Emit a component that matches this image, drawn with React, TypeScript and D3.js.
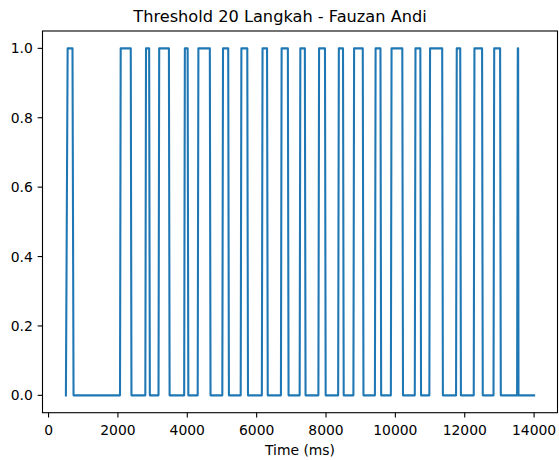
import React from "react";
import * as d3 from "d3";

const times: number[] = [
  500, 550, 690, 720,
  2060, 2080, 2370, 2390,
  2790, 2810, 2900, 2920,
  3170, 3190, 3470, 3490,
  3910, 3930, 4010, 4030,
  4300, 4320, 4650, 4670,
  5010, 5030, 5180, 5200,
  5540, 5560, 5730, 5750,
  6150, 6170, 6300, 6320,
  6700, 6720, 6900, 6920,
  7240, 7260, 7390, 7410,
  7780, 7800, 7970, 7990,
  8350, 8370, 8490, 8510,
  8790, 8810, 9060, 9080,
  9410, 9430, 9570, 9590,
  9870, 9890, 10200, 10220,
  10560, 10580, 10720, 10740,
  10980, 11000, 11350, 11370,
  11750, 11770, 11870, 11890,
  12260, 12280, 12500, 12520,
  12830, 12850, 13020, 13040,
  13510, 13530, 13540, 13550,
  14000,
];
const values: number[] = [
  0, 1, 1, 0,
  0, 1, 1, 0,
  0, 1, 1, 0,
  0, 1, 1, 0,
  0, 1, 1, 0,
  0, 1, 1, 0,
  0, 1, 1, 0,
  0, 1, 1, 0,
  0, 1, 1, 0,
  0, 1, 1, 0,
  0, 1, 1, 0,
  0, 1, 1, 0,
  0, 1, 1, 0,
  0, 1, 1, 0,
  0, 1, 1, 0,
  0, 1, 1, 0,
  0, 1, 1, 0,
  0, 1, 1, 0,
  0, 1, 1, 0,
  0, 1, 1, 0,
  0, 1, 1, 0,
  0, 1, 1, 0,
  0,
];
const xTicks = [0, 2000, 4000, 6000, 8000, 10000, 12000, 14000];
const yTicks = [0, 0.2, 0.4, 0.6, 0.8, 1.0];
const title = "Threshold 20 Langkah - Fauzan Andi";
const xLabel = "Time (ms)";

const W = 559;
const H = 460;
const left = 42.5;
const right = 557.5;
const top = 31;
const bottom = 412.7;
const tickFont = 13.9;
const tickLen = 4.86;

export default function App() {
  const xMin = d3.min(times)!;
  const xMax = d3.max(times)!;
  const xPad = (xMax - xMin) * 0.05;
  const x = d3.scaleLinear().domain([xMin - xPad, xMax + xPad]).range([left, right]);
  const y = d3.scaleLinear().domain([-0.05, 1.05]).range([bottom, top]);
  const pts = times.map((t, i) => [t, values[i]] as [number, number]);
  const line = d3.line<[number, number]>().x((d) => x(d[0])).y((d) => y(d[1]));
  const font = "'DejaVu Sans', sans-serif";
  return (
    <svg
      width={W}
      height={H}
      style={{ position: "absolute", left: 0, top: 0, background: "#fff" }}
      fontFamily={font}
    >
      <rect x={0} y={0} width={W} height={H} fill="#fff" />
      <path d={line(pts)!} fill="none" stroke="#1f77b4" strokeWidth={2.08} strokeLinejoin="round" strokeLinecap="square" />
      <rect x={left} y={top} width={right - left} height={bottom - top} fill="none" stroke="#000" strokeWidth={1.1} />
      {xTicks.map((t) => (
        <g key={"x" + t}>
          <line x1={x(t)} x2={x(t)} y1={bottom} y2={bottom + tickLen} stroke="#000" strokeWidth={1.1} />
          <text x={x(t)} y={bottom + 22.3} textAnchor="middle" fontSize={tickFont} fill="#000">
            {t}
          </text>
        </g>
      ))}
      {yTicks.map((t) => (
        <g key={"y" + t}>
          <line x1={left - tickLen} x2={left} y1={y(t)} y2={y(t)} stroke="#000" strokeWidth={1.1} />
          <text x={left - 2 * tickLen} y={y(t)} dy="0.36em" textAnchor="end" fontSize={tickFont} fill="#000">
            {t.toFixed(1)}
          </text>
        </g>
      ))}
      <text x={(left + right) / 2} y={455} textAnchor="middle" fontSize={tickFont} fill="#000">
        {xLabel}
      </text>
      <text x={280} y={21.5} textAnchor="middle" fontSize={16.2} fill="#000">
        {title}
      </text>
    </svg>
  );
}
